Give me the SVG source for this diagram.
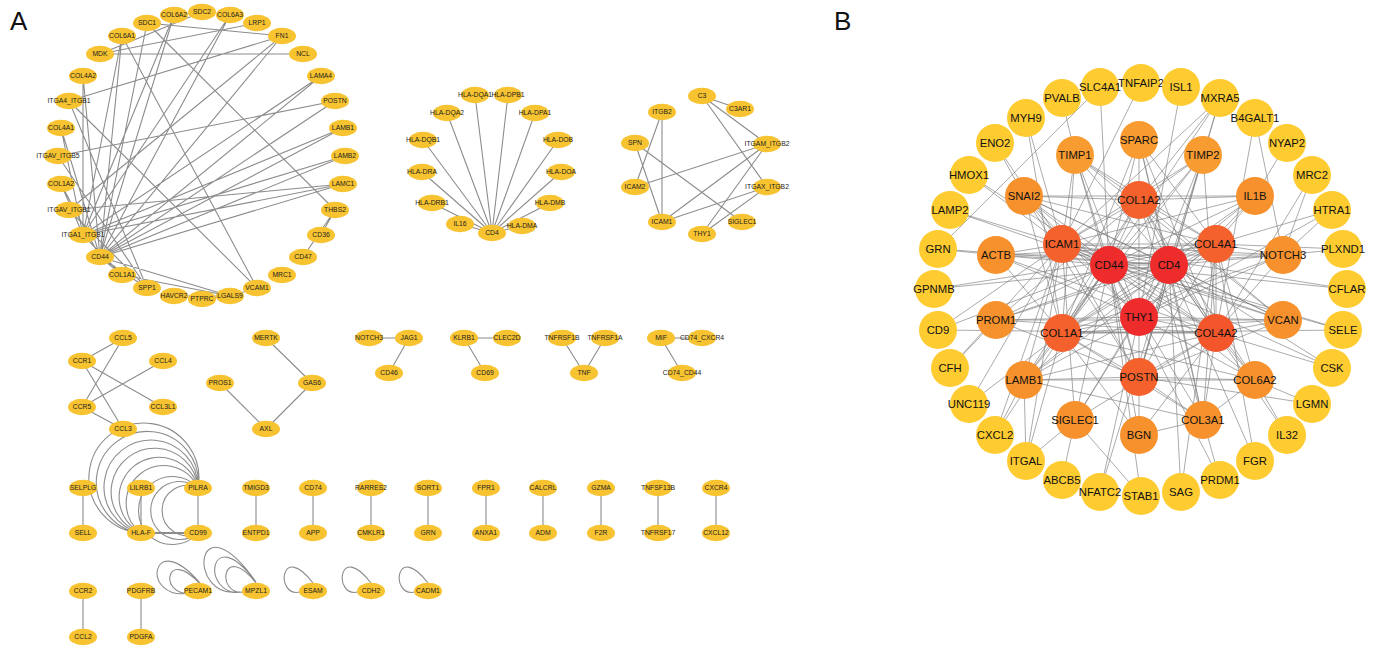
<svg xmlns="http://www.w3.org/2000/svg" width="1378" height="647" viewBox="0 0 1378 647">
<style>
.pa text{font-family:"Liberation Sans",Arial,sans-serif;font-size:6.8px;text-anchor:middle;fill:#1c1c1c}
.pb text{font-family:"Liberation Sans",Arial,sans-serif;font-size:11.3px;text-anchor:middle;fill:#111}
.ea-edges{fill:none;stroke:#8c8c8c;stroke-width:1.1}
.eb-edges{fill:none;stroke:#7d7d7d;stroke-width:0.65}
.y{fill:#FECB30}.o{fill:#F7912D}.ol{fill:#F89C31}.r{fill:#F4612C}.rr{fill:#F3562B}.c{fill:#EE2C2C}
.lbl{font-family:"Liberation Sans",Arial,sans-serif;font-size:26px;fill:#111}
</style>
<defs>
<ellipse id="ea" rx="14" ry="8.3" fill="#F7C331"/>
<circle id="cb" r="19"/>
</defs>
<rect width="1378" height="647" fill="#fff"/>
<text class="lbl" x="10" y="30">A</text>
<text class="lbl" x="834" y="30">B</text>

<g id="connectors-a" class="ea-edges">
<path d="M100 257L282 36M100 257L321 76M100 257L335 101M100 257L343 128M100 257L345 156M100 257L343 184M100 257L230 15M100 257L174 15M100 257L122 36M100 257L61 128M100 257L83 76M100 257L61 184M100 257L122 275M100 257L147 288M100 257L230 296M100 257L147 23
M83 235L122 275M83 235L61 184M83 235L61 128M83 235L83 76M83 235L122 36M83 235L174 15M83 235L230 15M83 235L343 128M83 235L345 156M83 235L343 184M83 235L321 76
M69 210L282 36M69 210L147 288M69 210L343 184
M58 156L147 288M58 156L335 101
M69 101L282 36M69 101L147 288M69 101L257 288
M147 23L282 36M147 23L335 210
M100 54L303 54M100 54L257 23M100 54L202 12M174 15L202 12
M335 210L321 235M335 210L303 257
M230 296L174 296M230 296L202 299M230 296L257 288M122 36L257 288M122 275L230 296"/>
<path d="M492 233L475 95M492 233L508 95M492 233L535 113M492 233L447 113M492 233L423 140M492 233L558 140M492 233L422 172M492 233L561 172M492 233L432 203M492 233L550 203M492 233L460 224M492 233L522 226"/>
<path d="M702 96L740 109M702 96L767 144M702 96L767 187M662 112L635 187M662 112L662 222M635 143L662 222M635 143L742 222M635 187L767 144M662 222L767 144M662 222L767 187M702 234L767 144M702 234L767 187"/>
<path d="M123 338L82 361M123 338L82 407M82 361L163 407M82 361L123 429M163 361L82 407M82 407L123 429M266 338L312 383M312 383L266 429M220 383L266 429M369 338L409 338M409 338L389 373M464 338L507 338M464 338L485 373M562 338L584 373M605 338L584 373M661 338L702 338M661 338L682 373"/>
<path d="M83 488L83 533M141 488L141 533M198 488L198 533M256 488L256 533M313 488L313 533M371 488L371 533M428 488L428 533M486 488L486 533M543 488L543 533M601 488L601 533M658 488L658 533M716 488L716 533M83 591L83 637M141 591L141 637"/>
<path d="M141 533L198 533" stroke-width="2.2"/>
<path d="M141 533A55 55 0 1 1 198 488M141 533A51 51 0 1 1 198 488M141 533A47 47 0 1 1 198 488M141 533A43.5 43.5 0 1 1 198 488M141 533A40 40 0 1 1 198 488M141 533A37.5 37.5 0 1 1 198 488M198 533A34 34 0 1 1 198 488M198 533A29 29 0 1 1 198 488M198 533A25 25 0 1 1 198 488"/>
<path d="M190 593C140 602 150 525 200 583M192 593C158 598 165 545 200 584M240 592C185 600 195 495 256 582M242 592C200 598 208 518 256 582M244 592C215 596 222 540 256 583M300 592C275 598 280 540 313 583M358 592C333 598 338 540 371 583M415 592C390 598 395 540 428 583"/>
</g>

<g class="pa">
<g id="a1-COL6A2" transform="translate(174,15)"><use href="#ea"/><text y="2.4">COL6A2</text></g>
<g id="a1-COL6A3" transform="translate(230,15)"><use href="#ea"/><text y="2.4">COL6A3</text></g>
<g id="a1-SDC2" transform="translate(202,12)"><use href="#ea"/><text y="2.4">SDC2</text></g>
<g id="a1-LRP1" transform="translate(257,23)"><use href="#ea"/><text y="2.4">LRP1</text></g>
<g id="a1-FN1" transform="translate(282,36)"><use href="#ea"/><text y="2.4">FN1</text></g>
<g id="a1-NCL" transform="translate(303,54)"><use href="#ea"/><text y="2.4">NCL</text></g>
<g id="a1-LAMA4" transform="translate(321,76)"><use href="#ea"/><text y="2.4">LAMA4</text></g>
<g id="a1-POSTN" transform="translate(335,101)"><use href="#ea"/><text y="2.4">POSTN</text></g>
<g id="a1-LAMB1" transform="translate(343,128)"><use href="#ea"/><text y="2.4">LAMB1</text></g>
<g id="a1-LAMB2" transform="translate(345,156)"><use href="#ea"/><text y="2.4">LAMB2</text></g>
<g id="a1-LAMC1" transform="translate(343,184)"><use href="#ea"/><text y="2.4">LAMC1</text></g>
<g id="a1-THBS2" transform="translate(335,210)"><use href="#ea"/><text y="2.4">THBS2</text></g>
<g id="a1-CD36" transform="translate(321,235)"><use href="#ea"/><text y="2.4">CD36</text></g>
<g id="a1-CD47" transform="translate(303,257)"><use href="#ea"/><text y="2.4">CD47</text></g>
<g id="a1-MRC1" transform="translate(282,275)"><use href="#ea"/><text y="2.4">MRC1</text></g>
<g id="a1-VCAM1" transform="translate(257,288)"><use href="#ea"/><text y="2.4">VCAM1</text></g>
<g id="a1-HAVCR2" transform="translate(174,296)"><use href="#ea"/><text y="2.4">HAVCR2</text></g>
<g id="a1-PTPRC" transform="translate(202,299)"><use href="#ea"/><text y="2.4">PTPRC</text></g>
<g id="a1-LGALS9" transform="translate(230,296)"><use href="#ea"/><text y="2.4">LGALS9</text></g>
<g id="a1-SPP1" transform="translate(147,288)"><use href="#ea"/><text y="2.4">SPP1</text></g>
<g id="a1-COL1A1" transform="translate(122,275)"><use href="#ea"/><text y="2.4">COL1A1</text></g>
<g id="a1-CD44" transform="translate(100,257)"><use href="#ea"/><text y="2.4">CD44</text></g>
<g id="a1-ITGA1_ITGB1" transform="translate(83,235)"><use href="#ea"/><text y="2.4">ITGA1_ITGB1</text></g>
<g id="a1-ITGAV_ITGB1" transform="translate(69,210)"><use href="#ea"/><text y="2.4">ITGAV_ITGB1</text></g>
<g id="a1-COL1A2" transform="translate(61,184)"><use href="#ea"/><text y="2.4">COL1A2</text></g>
<g id="a1-ITGAV_ITGB5" transform="translate(58,156)"><use href="#ea"/><text y="2.4">ITGAV_ITGB5</text></g>
<g id="a1-COL4A1" transform="translate(61,128)"><use href="#ea"/><text y="2.4">COL4A1</text></g>
<g id="a1-ITGA4_ITGB1" transform="translate(69,101)"><use href="#ea"/><text y="2.4">ITGA4_ITGB1</text></g>
<g id="a1-COL4A2" transform="translate(83,76)"><use href="#ea"/><text y="2.4">COL4A2</text></g>
<g id="a1-MDK" transform="translate(100,54)"><use href="#ea"/><text y="2.4">MDK</text></g>
<g id="a1-COL6A1" transform="translate(122,36)"><use href="#ea"/><text y="2.4">COL6A1</text></g>
<g id="a1-SDC1" transform="translate(147,23)"><use href="#ea"/><text y="2.4">SDC1</text></g>

<g id="a2-HLA-DQA1" transform="translate(475,95)"><use href="#ea"/><text y="2.4">HLA-DQA1</text></g>
<g id="a2-HLA-DPB1" transform="translate(508,95)"><use href="#ea"/><text y="2.4">HLA-DPB1</text></g>
<g id="a2-HLA-DPA1" transform="translate(535,113)"><use href="#ea"/><text y="2.4">HLA-DPA1</text></g>
<g id="a2-HLA-DQA2" transform="translate(447,113)"><use href="#ea"/><text y="2.4">HLA-DQA2</text></g>
<g id="a2-HLA-DQB1" transform="translate(423,140)"><use href="#ea"/><text y="2.4">HLA-DQB1</text></g>
<g id="a2-HLA-DOB" transform="translate(558,140)"><use href="#ea"/><text y="2.4">HLA-DOB</text></g>
<g id="a2-HLA-DRA" transform="translate(422,172)"><use href="#ea"/><text y="2.4">HLA-DRA</text></g>
<g id="a2-HLA-DOA" transform="translate(561,172)"><use href="#ea"/><text y="2.4">HLA-DOA</text></g>
<g id="a2-HLA-DRB1" transform="translate(432,203)"><use href="#ea"/><text y="2.4">HLA-DRB1</text></g>
<g id="a2-HLA-DMB" transform="translate(550,203)"><use href="#ea"/><text y="2.4">HLA-DMB</text></g>
<g id="a2-IL16" transform="translate(460,224)"><use href="#ea"/><text y="2.4">IL16</text></g>
<g id="a2-HLA-DMA" transform="translate(522,226)"><use href="#ea"/><text y="2.4">HLA-DMA</text></g>
<g id="a2-CD4" transform="translate(492,233)"><use href="#ea"/><text y="2.4">CD4</text></g>

<g id="a3-C3" transform="translate(702,96)"><use href="#ea"/><text y="2.4">C3</text></g>
<g id="a3-C3AR1" transform="translate(740,109)"><use href="#ea"/><text y="2.4">C3AR1</text></g>
<g id="a3-ITGB2" transform="translate(662,112)"><use href="#ea"/><text y="2.4">ITGB2</text></g>
<g id="a3-SPN" transform="translate(635,143)"><use href="#ea"/><text y="2.4">SPN</text></g>
<g id="a3-ITGAM_ITGB2" transform="translate(767,144)"><use href="#ea"/><text y="2.4">ITGAM_ITGB2</text></g>
<g id="a3-ICAM2" transform="translate(635,187)"><use href="#ea"/><text y="2.4">ICAM2</text></g>
<g id="a3-ITGAX_ITGB2" transform="translate(767,187)"><use href="#ea"/><text y="2.4">ITGAX_ITGB2</text></g>
<g id="a3-ICAM1" transform="translate(662,222)"><use href="#ea"/><text y="2.4">ICAM1</text></g>
<g id="a3-SIGLEC1" transform="translate(742,222)"><use href="#ea"/><text y="2.4">SIGLEC1</text></g>
<g id="a3-THY1" transform="translate(702,234)"><use href="#ea"/><text y="2.4">THY1</text></g>

<g id="a4-CCL5" transform="translate(123,338)"><use href="#ea"/><text y="2.4">CCL5</text></g>
<g id="a4-CCR1" transform="translate(82,361)"><use href="#ea"/><text y="2.4">CCR1</text></g>
<g id="a4-CCL4" transform="translate(163,361)"><use href="#ea"/><text y="2.4">CCL4</text></g>
<g id="a4-CCR5" transform="translate(82,407)"><use href="#ea"/><text y="2.4">CCR5</text></g>
<g id="a4-CCL3L1" transform="translate(163,407)"><use href="#ea"/><text y="2.4">CCL3L1</text></g>
<g id="a4-CCL3" transform="translate(123,429)"><use href="#ea"/><text y="2.4">CCL3</text></g>
<g id="a4-MERTK" transform="translate(266,338)"><use href="#ea"/><text y="2.4">MERTK</text></g>
<g id="a4-PROS1" transform="translate(220,383)"><use href="#ea"/><text y="2.4">PROS1</text></g>
<g id="a4-GAS6" transform="translate(312,383)"><use href="#ea"/><text y="2.4">GAS6</text></g>
<g id="a4-AXL" transform="translate(266,429)"><use href="#ea"/><text y="2.4">AXL</text></g>
<g id="a4-NOTCH3" transform="translate(369,338)"><use href="#ea"/><text y="2.4">NOTCH3</text></g>
<g id="a4-JAG1" transform="translate(409,338)"><use href="#ea"/><text y="2.4">JAG1</text></g>
<g id="a4-CD46" transform="translate(389,373)"><use href="#ea"/><text y="2.4">CD46</text></g>
<g id="a4-KLRB1" transform="translate(464,338)"><use href="#ea"/><text y="2.4">KLRB1</text></g>
<g id="a4-CLEC2D" transform="translate(507,338)"><use href="#ea"/><text y="2.4">CLEC2D</text></g>
<g id="a4-CD69" transform="translate(485,373)"><use href="#ea"/><text y="2.4">CD69</text></g>
<g id="a4-TNFRSF1B" transform="translate(562,338)"><use href="#ea"/><text y="2.4">TNFRSF1B</text></g>
<g id="a4-TNFRSF1A" transform="translate(605,338)"><use href="#ea"/><text y="2.4">TNFRSF1A</text></g>
<g id="a4-TNF" transform="translate(584,373)"><use href="#ea"/><text y="2.4">TNF</text></g>
<g id="a4-MIF" transform="translate(661,338)"><use href="#ea"/><text y="2.4">MIF</text></g>
<g id="a4-CD74_CXCR4" transform="translate(702,338)"><use href="#ea"/><text y="2.4">CD74_CXCR4</text></g>
<g id="a4-CD74_CD44" transform="translate(682,373)"><use href="#ea"/><text y="2.4">CD74_CD44</text></g>

<g id="a4-SELPLG" transform="translate(83,488)"><use href="#ea"/><text y="2.4">SELPLG</text></g>
<g id="a4-SELL" transform="translate(83,533)"><use href="#ea"/><text y="2.4">SELL</text></g>
<g id="a4-LILRB1" transform="translate(141,488)"><use href="#ea"/><text y="2.4">LILRB1</text></g>
<g id="a4-HLA-F" transform="translate(141,533)"><use href="#ea"/><text y="2.4">HLA-F</text></g>
<g id="a4-PILRA" transform="translate(198,488)"><use href="#ea"/><text y="2.4">PILRA</text></g>
<g id="a4-CD99" transform="translate(198,533)"><use href="#ea"/><text y="2.4">CD99</text></g>
<g id="a4-TMIGD3" transform="translate(256,488)"><use href="#ea"/><text y="2.4">TMIGD3</text></g>
<g id="a4-ENTPD1" transform="translate(256,533)"><use href="#ea"/><text y="2.4">ENTPD1</text></g>
<g id="a4-CD74" transform="translate(313,488)"><use href="#ea"/><text y="2.4">CD74</text></g>
<g id="a4-APP" transform="translate(313,533)"><use href="#ea"/><text y="2.4">APP</text></g>
<g id="a4-RARRES2" transform="translate(371,488)"><use href="#ea"/><text y="2.4">RARRES2</text></g>
<g id="a4-CMKLR1" transform="translate(371,533)"><use href="#ea"/><text y="2.4">CMKLR1</text></g>
<g id="a4-SORT1" transform="translate(428,488)"><use href="#ea"/><text y="2.4">SORT1</text></g>
<g id="a4-GRN" transform="translate(428,533)"><use href="#ea"/><text y="2.4">GRN</text></g>
<g id="a4-FPR1" transform="translate(486,488)"><use href="#ea"/><text y="2.4">FPR1</text></g>
<g id="a4-ANXA1" transform="translate(486,533)"><use href="#ea"/><text y="2.4">ANXA1</text></g>
<g id="a4-CALCRL" transform="translate(543,488)"><use href="#ea"/><text y="2.4">CALCRL</text></g>
<g id="a4-ADM" transform="translate(543,533)"><use href="#ea"/><text y="2.4">ADM</text></g>
<g id="a4-GZMA" transform="translate(601,488)"><use href="#ea"/><text y="2.4">GZMA</text></g>
<g id="a4-F2R" transform="translate(601,533)"><use href="#ea"/><text y="2.4">F2R</text></g>
<g id="a4-TNFSF13B" transform="translate(658,488)"><use href="#ea"/><text y="2.4">TNFSF13B</text></g>
<g id="a4-TNFRSF17" transform="translate(658,533)"><use href="#ea"/><text y="2.4">TNFRSF17</text></g>
<g id="a4-CXCR4" transform="translate(716,488)"><use href="#ea"/><text y="2.4">CXCR4</text></g>
<g id="a4-CXCL12" transform="translate(716,533)"><use href="#ea"/><text y="2.4">CXCL12</text></g>
<g id="a4-CCR2" transform="translate(83,591)"><use href="#ea"/><text y="2.4">CCR2</text></g>
<g id="a4-CCL2" transform="translate(83,637)"><use href="#ea"/><text y="2.4">CCL2</text></g>
<g id="a4-PDGFRB" transform="translate(141,591)"><use href="#ea"/><text y="2.4">PDGFRB</text></g>
<g id="a4-PDGFA" transform="translate(141,637)"><use href="#ea"/><text y="2.4">PDGFA</text></g>
<g id="a4-PECAM1" transform="translate(198,591)"><use href="#ea"/><text y="2.4">PECAM1</text></g>
<g id="a4-MPZL1" transform="translate(256,591)"><use href="#ea"/><text y="2.4">MPZL1</text></g>
<g id="a4-ESAM" transform="translate(313,591)"><use href="#ea"/><text y="2.4">ESAM</text></g>
<g id="a4-CDH2" transform="translate(371,591)"><use href="#ea"/><text y="2.4">CDH2</text></g>
<g id="a4-CADM1" transform="translate(428,591)"><use href="#ea"/><text y="2.4">CADM1</text></g>
</g>

<g id="connectors-b" class="eb-edges">
<path d="M1109 265L1169 265M1109 265L1139 317M1169 265L1139 317
M1109 265L1139 200M1109 265L1062 244M1109 265L1216 244M1109 265L1062 333M1109 265L1216 333M1109 265L1139 377
M1169 265L1139 200M1169 265L1062 244M1169 265L1216 244M1169 265L1062 333M1169 265L1216 333M1169 265L1139 377
M1139 317L1139 200M1139 317L1062 244M1139 317L1216 244M1139 317L1062 333M1139 317L1216 333M1139 317L1139 377
M1109 265L1139 140M1109 265L1203 155M1109 265L1255 196M1109 265L1283 255M1109 265L1283 320M1109 265L1255 380M1109 265L1203 420M1109 265L1139 435M1109 265L1075 420M1109 265L1024 380M1109 265L996 320M1109 265L996 255M1109 265L1024 196M1109 265L1075 155
M1169 265L1139 140M1169 265L1075 155M1169 265L1203 155M1169 265L1255 196M1169 265L1283 255M1169 265L1283 320M1169 265L1255 380M1169 265L1203 420M1169 265L1075 420M1169 265L1024 380M1169 265L996 320M1169 265L996 255M1169 265L1024 196
M1139 317L1075 155M1139 317L1203 155M1139 317L1024 196M1139 317L1255 196M1139 317L1283 255M1139 317L1283 320M1139 317L996 320M1139 317L1075 420M1139 317L996 255M1139 317L1024 380M1139 317L1255 380
M1139 200L1062 333M1139 200L1216 244M1139 200L1216 333M1139 200L1062 244M1062 333L1216 244M1062 333L1216 333M1062 333L1139 377M1216 244L1216 333M1216 333L1139 377M1062 244L1216 333M1062 244L1216 244M1216 244L1139 377M1062 244L1139 377
M1139 200L1139 140M1139 200L1075 155M1139 200L1203 155M1139 200L1024 196M1139 200L1255 196M1139 200L1203 420M1139 200L1255 380M1139 200L1024 380M1139 200L1283 320M1139 200L996 320
M1062 244L996 255M1062 244L1283 255M1062 244L1255 196M1062 244L1024 196M1062 244L1075 155M1062 244L1203 155M1062 244L1075 420M1062 244L1283 320M1062 244L1024 380
M1216 244L1024 380M1216 244L1255 196M1216 244L1139 140M1216 244L1075 155M1216 244L1283 255M1216 244L1255 380M1216 244L1203 420M1216 244L996 255M1216 244L1024 196M1216 244L996 320
M1062 333L1139 140M1062 333L1075 155M1062 333L1203 155M1062 333L1024 196M1062 333L1255 196M1062 333L1255 380M1062 333L1203 420M1062 333L1139 435M1062 333L1024 380M1062 333L1283 320M1062 333L996 255M1062 333L1283 255
M1216 333L1024 380M1216 333L1139 140M1216 333L1203 155M1216 333L1283 255M1216 333L1283 320M1216 333L1255 380M1216 333L1203 420M1216 333L1075 420M1216 333L996 320M1216 333L996 255M1216 333L1139 435M1216 333L1024 196
M1139 377L1139 435M1139 377L1203 420M1139 377L1255 380M1139 377L1024 380M1139 377L1283 320M1139 377L1024 196M1139 377L1075 155M1139 377L1203 155M1139 377L996 320
M1024 196L1255 196M996 255L1283 255M1024 380L1255 380M1203 420L1139 435M1255 380L1203 420M1075 155L1283 320M1024 196L1283 320M1024 380L1203 420M996 320L1283 320M1139 140L1203 420
M1141 83L1062 244M1100 87L938 249M1100 87L1109 265M1181 87L1139 317M1062 98L1075 155
M1220 98L1139 200M1220 98L1062 333M1220 98L1062 244M1220 98L1203 155M1220 98L1139 377
M1026 118L1062 244M1026 118L1062 333M1255 118L1283 255M1255 118L1216 333
M995 143L1062 244M995 143L1024 196M1287 143L1255 196M969 175L1062 244M969 175L1109 265
M1312 175L1216 333M1312 175L1283 255M950 210L1062 244M950 210L1109 265
M1332 210L1283 255M1332 210L1216 244M1332 210L1139 317M938 249L996 255M938 249L1169 265
M1343 249L1283 255M1343 249L1216 244M934 289L1169 265M934 289L1216 244
M1347 289L1109 265M1347 289L1062 244M938 330L1216 333M938 330L1109 265M938 330L1062 244
M1343 330L1062 244M1343 330L1109 265M1343 330L1062 333M950 368L996 320M950 368L1062 244
M1332 368L1216 333M1332 368L1169 265M1332 368L1062 244M969 404L1062 333M969 404L1062 244
M1312 404L1255 380M1312 404L1139 377M995 435L1062 244M995 435L1109 265M995 435L1024 380
M1287 435L1255 380M1287 435L1169 265M1026 461L1062 244M1026 461L1075 420M1026 461L1062 333M1026 461L1024 380
M1255 461L1169 265M1255 461L1216 244M1062 480L1075 420M1220 480L1203 420M1220 480L1109 265
M1100 492L1169 265M1100 492L1139 317M1181 492L1169 265M1181 492L1216 244M1141 496L1075 420M1141 496L1109 265"/>
</g>

<g class="pb">
<g id="b-TNFAIP2" transform="translate(1141,83)"><use href="#cb" class="y"/><text y="4">TNFAIP2</text></g>
<g id="b-ISL1" transform="translate(1181,87)"><use href="#cb" class="y"/><text y="4">ISL1</text></g>
<g id="b-MXRA5" transform="translate(1220,98)"><use href="#cb" class="y"/><text y="4">MXRA5</text></g>
<g id="b-B4GALT1" transform="translate(1255,118)"><use href="#cb" class="y"/><text y="4">B4GALT1</text></g>
<g id="b-NYAP2" transform="translate(1287,143)"><use href="#cb" class="y"/><text y="4">NYAP2</text></g>
<g id="b-MRC2" transform="translate(1312,175)"><use href="#cb" class="y"/><text y="4">MRC2</text></g>
<g id="b-HTRA1" transform="translate(1332,210)"><use href="#cb" class="y"/><text y="4">HTRA1</text></g>
<g id="b-PLXND1" transform="translate(1343,249)"><use href="#cb" class="y"/><text y="4">PLXND1</text></g>
<g id="b-CFLAR" transform="translate(1347,289)"><use href="#cb" class="y"/><text y="4">CFLAR</text></g>
<g id="b-SELE" transform="translate(1343,330)"><use href="#cb" class="y"/><text y="4">SELE</text></g>
<g id="b-CSK" transform="translate(1332,368)"><use href="#cb" class="y"/><text y="4">CSK</text></g>
<g id="b-LGMN" transform="translate(1312,404)"><use href="#cb" class="y"/><text y="4">LGMN</text></g>
<g id="b-IL32" transform="translate(1287,435)"><use href="#cb" class="y"/><text y="4">IL32</text></g>
<g id="b-FGR" transform="translate(1255,461)"><use href="#cb" class="y"/><text y="4">FGR</text></g>
<g id="b-PRDM1" transform="translate(1220,480)"><use href="#cb" class="y"/><text y="4">PRDM1</text></g>
<g id="b-SAG" transform="translate(1181,492)"><use href="#cb" class="y"/><text y="4">SAG</text></g>
<g id="b-STAB1" transform="translate(1141,496)"><use href="#cb" class="y"/><text y="4">STAB1</text></g>
<g id="b-NFATC2" transform="translate(1100,492)"><use href="#cb" class="y"/><text y="4">NFATC2</text></g>
<g id="b-ABCB5" transform="translate(1062,480)"><use href="#cb" class="y"/><text y="4">ABCB5</text></g>
<g id="b-ITGAL" transform="translate(1026,461)"><use href="#cb" class="y"/><text y="4">ITGAL</text></g>
<g id="b-CXCL2" transform="translate(995,435)"><use href="#cb" class="y"/><text y="4">CXCL2</text></g>
<g id="b-UNC119" transform="translate(969,404)"><use href="#cb" class="y"/><text y="4">UNC119</text></g>
<g id="b-CFH" transform="translate(950,368)"><use href="#cb" class="y"/><text y="4">CFH</text></g>
<g id="b-CD9" transform="translate(938,330)"><use href="#cb" class="y"/><text y="4">CD9</text></g>
<g id="b-GPNMB" transform="translate(934,289)"><use href="#cb" class="y"/><text y="4">GPNMB</text></g>
<g id="b-GRN" transform="translate(938,249)"><use href="#cb" class="y"/><text y="4">GRN</text></g>
<g id="b-LAMP2" transform="translate(950,210)"><use href="#cb" class="y"/><text y="4">LAMP2</text></g>
<g id="b-HMOX1" transform="translate(969,175)"><use href="#cb" class="y"/><text y="4">HMOX1</text></g>
<g id="b-ENO2" transform="translate(995,143)"><use href="#cb" class="y"/><text y="4">ENO2</text></g>
<g id="b-MYH9" transform="translate(1026,118)"><use href="#cb" class="y"/><text y="4">MYH9</text></g>
<g id="b-PVALB" transform="translate(1062,98)"><use href="#cb" class="y"/><text y="4">PVALB</text></g>
<g id="b-SLC4A1" transform="translate(1100,87)"><use href="#cb" class="y"/><text y="4">SLC4A1</text></g>

<g id="b-SPARC" transform="translate(1139,140)"><use href="#cb" class="ol"/><text y="4">SPARC</text></g>
<g id="b-TIMP1" transform="translate(1075,155)"><use href="#cb" class="ol"/><text y="4">TIMP1</text></g>
<g id="b-TIMP2" transform="translate(1203,155)"><use href="#cb" class="ol"/><text y="4">TIMP2</text></g>
<g id="b-SNAI2" transform="translate(1024,196)"><use href="#cb" class="o"/><text y="4">SNAI2</text></g>
<g id="b-IL1B" transform="translate(1255,196)"><use href="#cb" class="o"/><text y="4">IL1B</text></g>
<g id="b-ACTB" transform="translate(996,255)"><use href="#cb" class="o"/><text y="4">ACTB</text></g>
<g id="b-NOTCH3" transform="translate(1283,255)"><use href="#cb" class="o"/><text y="4">NOTCH3</text></g>
<g id="b-PROM1" transform="translate(996,320)"><use href="#cb" class="o"/><text y="4">PROM1</text></g>
<g id="b-VCAN" transform="translate(1283,320)"><use href="#cb" class="o"/><text y="4">VCAN</text></g>
<g id="b-LAMB1" transform="translate(1024,380)"><use href="#cb" class="o"/><text y="4">LAMB1</text></g>
<g id="b-COL6A2" transform="translate(1255,380)"><use href="#cb" class="o"/><text y="4">COL6A2</text></g>
<g id="b-SIGLEC1" transform="translate(1075,420)"><use href="#cb" class="o"/><text y="4">SIGLEC1</text></g>
<g id="b-COL3A1" transform="translate(1203,420)"><use href="#cb" class="o"/><text y="4">COL3A1</text></g>
<g id="b-BGN" transform="translate(1139,435)"><use href="#cb" class="o"/><text y="4">BGN</text></g>

<g id="b-COL1A2" transform="translate(1139,200)"><use href="#cb" class="r"/><text y="4">COL1A2</text></g>
<g id="b-ICAM1" transform="translate(1062,244)"><use href="#cb" class="r"/><text y="4">ICAM1</text></g>
<g id="b-COL4A1" transform="translate(1216,244)"><use href="#cb" class="r"/><text y="4">COL4A1</text></g>
<g id="b-COL1A1" transform="translate(1062,333)"><use href="#cb" class="r"/><text y="4">COL1A1</text></g>
<g id="b-COL4A2" transform="translate(1216,333)"><use href="#cb" class="rr"/><text y="4">COL4A2</text></g>
<g id="b-POSTN" transform="translate(1139,377)"><use href="#cb" class="r"/><text y="4">POSTN</text></g>

<g id="b-CD44" transform="translate(1109,265)"><use href="#cb" class="c"/><text y="4">CD44</text></g>
<g id="b-CD4" transform="translate(1169,265)"><use href="#cb" class="c"/><text y="4">CD4</text></g>
<g id="b-THY1" transform="translate(1139,317)"><use href="#cb" class="c"/><text y="4">THY1</text></g>
</g>
</svg>
